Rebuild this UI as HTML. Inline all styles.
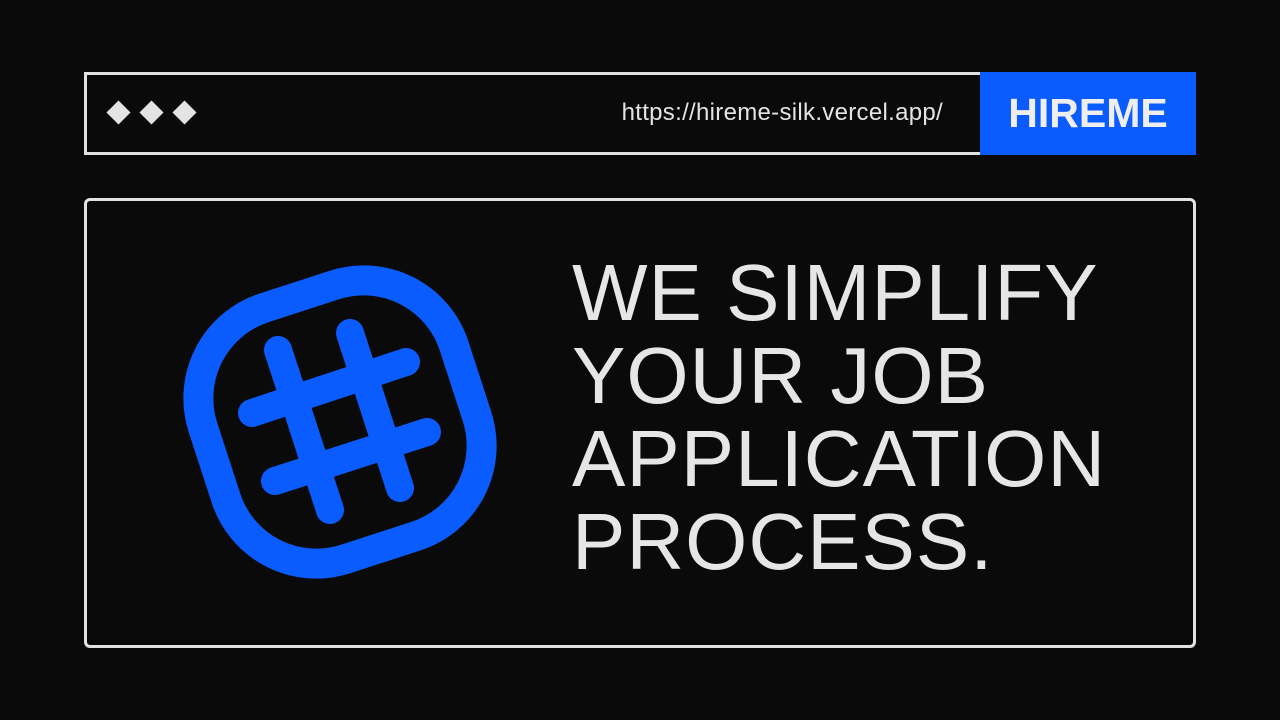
<!DOCTYPE html>
<html><head><style>
body{margin:0;width:1280px;height:720px;background:#0a0a0a;position:relative;overflow:hidden;font-family:"Liberation Sans",sans-serif}
.bar{position:absolute;left:84px;top:72px;width:896px;height:77px;border:3px solid #e2e2e2;border-right:none}
.d{position:absolute;top:104px;width:17px;height:17px;background:#e4e4e4;transform:rotate(45deg)}
.url{position:absolute;right:337px;top:99px;color:#e4e4e4;font-size:24px;letter-spacing:0.3px}
.blue{position:absolute;left:980px;top:72px;width:216px;height:83px;background:#0b5cff;color:#eee;font-weight:bold;font-size:41px;line-height:83px;text-align:center}
.main{position:absolute;left:84px;top:198px;width:1106px;height:444px;border:3px solid #e2e2e2;border-radius:6px}
.t{position:absolute;left:572px;top:251px;color:#e6e6e6;font-size:80px;line-height:83px;letter-spacing:1px;white-space:pre}
</style></head><body>
<div class="bar"></div>
<div class="d" style="left:110px"></div><div class="d" style="left:143px"></div><div class="d" style="left:176px"></div>
<div class="url">https://hireme-silk.vercel.app/</div>
<div class="blue">HIREME</div>
<div class="main"></div>
<svg style="position:absolute;left:0;top:0" width="1280" height="720">
<g transform="translate(340,422) rotate(-18)">
<rect x="-132" y="-132" width="264" height="264" rx="95" fill="none" stroke="#0b5cff" stroke-width="30"/>
</g>
<g stroke="#0b5cff" stroke-width="28" stroke-linecap="round">
<line x1="278" y1="350" x2="330" y2="510"/>
<line x1="350" y1="333" x2="400" y2="488"/>
<line x1="252" y1="413" x2="406" y2="362"/>
<line x1="275" y1="481" x2="427" y2="432"/>
</g>
</svg>
<div class="t">WE SIMPLIFY
YOUR JOB
APPLICATION
PROCESS.</div>
</body></html>
